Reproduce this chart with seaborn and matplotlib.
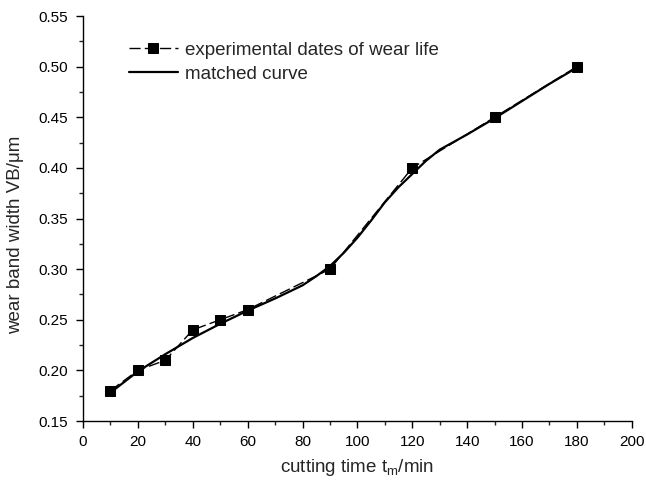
import matplotlib
matplotlib.use("Agg")
import matplotlib.pyplot as plt
from matplotlib.ticker import MultipleLocator
import pandas as pd
import seaborn as sns

# Measured tool wear
cut_time = [10, 20, 30, 40, 50, 60, 90, 120, 150, 180]
wear_width = [0.18, 0.20, 0.21, 0.24, 0.25, 0.26, 0.30, 0.40, 0.45, 0.50]

# Fitted wear curve
fit_time = [10, 20, 30, 40, 50, 60, 70, 80, 85, 90, 95, 100, 105, 110,
            115, 120, 125, 130, 140, 150, 160, 170, 180]
fit_width = [0.178, 0.199, 0.216, 0.232, 0.246, 0.259, 0.271, 0.284, 0.293,
             0.303, 0.316, 0.331, 0.348, 0.366, 0.381, 0.394, 0.407, 0.418,
             0.433, 0.449, 0.466, 0.483, 0.499]

x_ticks = [0, 20, 40, 60, 80, 100, 120, 140, 160, 180, 200]
y_ticks = [0.15, 0.20, 0.25, 0.30, 0.35, 0.40, 0.45, 0.50, 0.55]

sns.set_style("ticks")
plt.rcParams["font.family"] = ["Liberation Sans", "DejaVu Sans"]
plt.rcParams["mathtext.fontset"] = "custom"
plt.rcParams["mathtext.rm"] = "Liberation Sans"

measured = pd.DataFrame({"t": cut_time, "vb": wear_width})
fitted = pd.DataFrame({"t": fit_time, "vb": fit_width})

fig = plt.figure(figsize=(6.46, 4.90), dpi=100)
ax = fig.add_axes([0.1285, 0.1408, 0.8495, 0.8265])

sns.lineplot(data=measured, x="t", y="vb", ax=ax, color="black",
             marker="s", markersize=6.5, markeredgecolor="black",
             linewidth=1.0, dashes=False, linestyle=(0, (8, 3)),
             label="experimental dates of wear life")
sns.lineplot(data=fitted, x="t", y="vb", ax=ax, color="black",
             linewidth=1.6, label="matched curve")

ax.set_xlim(0, 200)
ax.set_ylim(0.15, 0.55)
ax.set_xticks(x_ticks)
ax.set_yticks(y_ticks)
ax.set_xticklabels([str(v) for v in x_ticks])
ax.set_yticklabels([f"{v:.2f}" for v in y_ticks])
ax.xaxis.set_minor_locator(MultipleLocator(10))
ax.yaxis.set_minor_locator(MultipleLocator(0.025))
ax.tick_params(which="major", direction="out", length=5, width=1.0,
               labelsize=11, colors="black")
ax.tick_params(axis="x", which="major", pad=5)
ax.tick_params(axis="y", which="major", pad=6)
ax.tick_params(which="minor", direction="out", length=3, width=1.0)
for side in ("top", "right"):
    ax.spines[side].set_visible(False)
for side in ("left", "bottom"):
    ax.spines[side].set_linewidth(1.0)
    ax.spines[side].set_color("black")

ax.set_xlabel(r"cutting time t$_{\mathrm{m}}$/min", fontsize=13.5)
ax.set_ylabel("wear band width VB/\u03bcm", fontsize=13.5)
ax.xaxis.set_label_coords(0.5, -0.09)
ax.yaxis.set_label_coords(-0.107, 0.46)

ax.legend(loc="upper left", bbox_to_anchor=(0.07, 0.955), frameon=False,
          fontsize=13.5, handlelength=2.6, handletextpad=0.4,
          labelspacing=0.35, borderaxespad=0)

fig.savefig("out.png", dpi=100)
